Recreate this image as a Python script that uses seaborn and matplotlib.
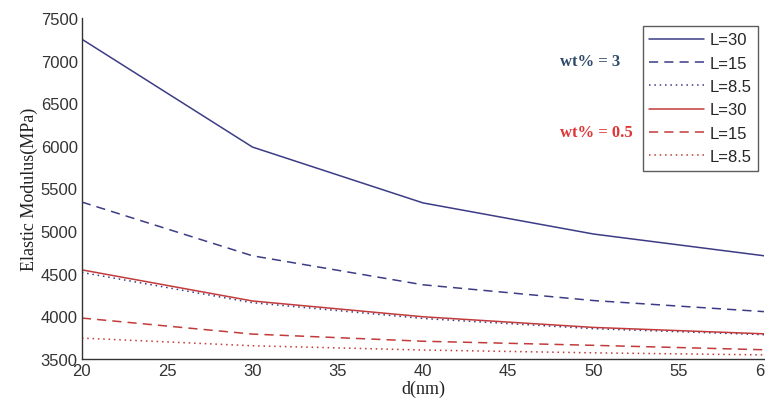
import numpy as np
import matplotlib.pyplot as plt
import seaborn as sns

# data
d = [20, 30, 40, 50, 60]
wt3_L30 = [7250, 5985, 5330, 4965, 4710]
wt3_L15 = [5340, 4710, 4370, 4185, 4055]
wt3_L85 = [4515, 4160, 3975, 3855, 3785]
wt05_L30 = [4545, 4180, 3995, 3870, 3795]
wt05_L15 = [3980, 3792, 3708, 3660, 3608]
wt05_L85 = [3745, 3655, 3605, 3572, 3548]
labels = ["L=30", "L=15", "L=8.5", "L=30", "L=15", "L=8.5"]

blue = "#3c3c86"
red = "#c23a3a"

sns.set_style("white")
plt.rcParams['font.family'] = ['Liberation Sans', 'DejaVu Sans']

fig = plt.figure(figsize=(7.65, 4.10), dpi=100)
ax = fig.add_axes([0.107, 0.122, 0.892, 0.832])

series = [wt3_L30, wt3_L15, wt3_L85, wt05_L30, wt05_L15, wt05_L85]
colors = [blue, blue, blue, red, red, red]
styles = ["-", (0, (6, 4)), (0, (1, 2.5)), "-", (0, (6, 4)), (0, (1, 2.5))]
for y, c, ls, lab in zip(series, colors, styles, labels):
    sns.lineplot(x=d, y=y, ax=ax, color=c, linestyle=ls, linewidth=1.1, label=lab)

ax.set_xlim(20, 60)
ax.set_ylim(3500, 7500)
ax.set_xticks(np.arange(20, 61, 5))
ax.set_yticks(np.arange(3500, 7501, 500))
ax.tick_params(direction="in", length=5, width=1, labelsize=12, colors="#333333", pad=3)
for s in ["top", "right"]:
    ax.spines[s].set_visible(False)
for s in ["left", "bottom"]:
    ax.spines[s].set_color("#333333")
    ax.spines[s].set_linewidth(1)

ax.set_xlabel("d(nm)", family="Liberation Serif", fontsize=13, labelpad=1, color="#222222")
ax.set_ylabel("Elastic Modulus(MPa)", family="Liberation Serif", fontsize=13, labelpad=2, color="#222222")

leg = ax.legend(loc="upper right", bbox_to_anchor=(0.991, 0.977), fontsize=12, handlelength=3.3,
                handletextpad=0.3, labelspacing=0.5, borderpad=0.4, borderaxespad=0,
                frameon=True, fancybox=False)
leg.get_frame().set_edgecolor("#333333")
leg.get_frame().set_linewidth(1)

ax.text(0.70, 0.874, "wt% = 3", transform=ax.transAxes, family="Liberation Serif",
        fontweight="bold", fontsize=12, color="#2f4a6b", ha="left", va="center")
ax.text(0.70, 0.666, "wt% = 0.5", transform=ax.transAxes, family="Liberation Serif",
        fontweight="bold", fontsize=12, color="#e03535", ha="left", va="center")

fig.savefig("out.png", dpi=100)
